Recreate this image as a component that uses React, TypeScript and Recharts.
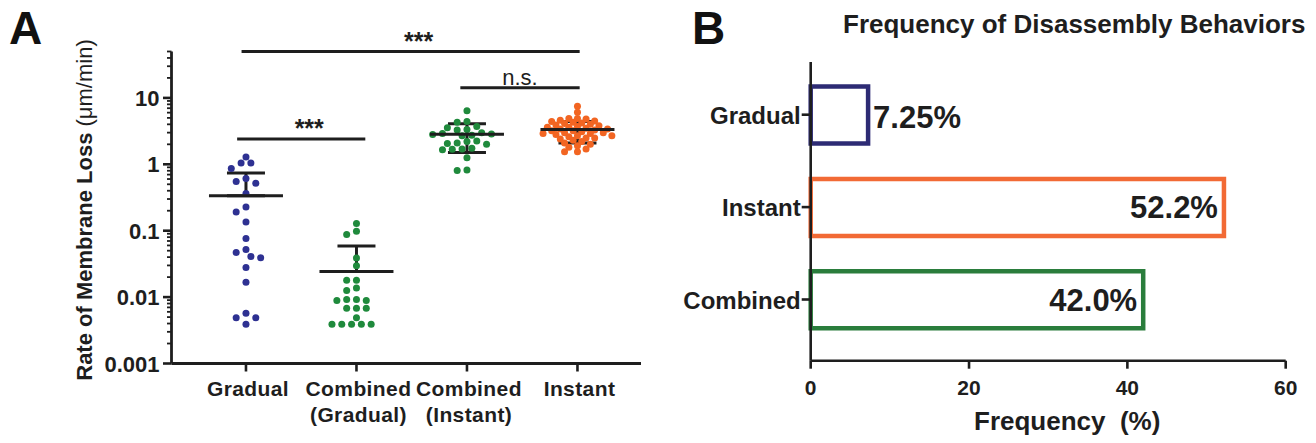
import React from 'react'
import {
  ScatterChart,
  Scatter,
  XAxis,
  YAxis,
  ErrorBar,
  ReferenceLine,
  BarChart,
  Bar,
  Cell,
  LabelList,
} from 'recharts'

// ---- Panel A: rate of membrane loss (um/min), log scale ----
const rateCategories = [1, 2, 3, 4]
const rateCategoryLabels = [['Gradual'], ['Combined', '(Gradual)'], ['Combined', '(Instant)'], ['Instant']]

const gradualRates = [
  1.29, 1.05, 1.05, 0.865, 0.61, 0.55, 0.52, 0.363, 0.228, 0.191, 0.135, 0.076, 0.052, 0.047, 0.041,
  0.039, 0.028, 0.0168, 0.0057, 0.0049, 0.0049, 0.0039,
]
const combinedGradualRates = [
  0.128, 0.098, 0.088, 0.0387, 0.0297, 0.0179, 0.0179, 0.0137, 0.0126, 0.0089, 0.0089, 0.0092, 0.0092,
  0.0068, 0.0068, 0.0068, 0.0049, 0.0039, 0.0039, 0.0039, 0.0039, 0.0039,
]
const combinedInstantRates = [
  6.4, 4.4, 4.3, 3.7, 3.55, 3.35, 3.3, 3.0, 2.9, 2.85, 2.8, 2.75, 2.7, 2.25, 2.2, 2.1, 2.05, 2.0, 1.75,
  1.7, 1.68, 1.65, 1.25, 0.82, 0.81,
]
const instantRates = [
  7.5, 6.1, 4.9, 4.9, 4.8, 4.6, 4.5, 4.4, 4.3, 4.2, 4.1, 4.0, 3.9, 3.8, 3.7, 3.6, 3.6, 3.5, 3.4, 3.4,
  3.3, 3.2, 3.2, 3.1, 3.0, 3.0, 2.9, 2.9, 2.8, 2.7, 2.7, 2.6, 2.5, 2.5, 2.4, 2.3, 2.2, 2.1, 2.0, 1.9,
  1.8, 1.7, 1.55, 1.55,
]

// mean +/- SD; the lower arm of the first two groups falls below zero, so it is not drawn
const rateMeans = [0.336, 0.0243, 2.84, 3.33]
const rateUpper = [0.739, 0.059, 4.09, 4.43]
const rateLower = [0.336, 0.0243, 1.5, 2.1]

const decadeTicks = [0.001, 0.01, 0.1, 1, 10]
const decadeLabels = ['0.001', '0.01', '0.1', '1', '10']
const minorMultipliers = [2, 3, 4, 5, 6, 7, 8, 9]

const comparisons = [
  { from: 0.96, to: 4.02, y: 50, label: '***' },
  { from: 0.92, to: 2.08, y: 2.41, label: '***' },
  { from: 2.94, to: 4.02, y: 14.2, label: 'n.s.' },
]

// ---- Panel B: frequency of disassembly behaviors ----
const behaviors = ['Gradual', 'Instant', 'Combined']
const frequencies = [7.25, 52.2, 42.0]
const frequencyLabels = ['7.25%', '52.2%', '42.0%']
const frequencyTicks = [0, 20, 40, 60]

const INK = '#1e1e1e'
const FONT = 'Liberation Sans, Arial, sans-serif'

// layout of panel A plot (pixels), used only to lay out the swarm and tick marks
const A_AXIS_X = 171.5
const PX_PER_CATEGORY = 110.5
const PX_PER_DECADE = 66.3
const SWARM_STEP = 4.9

// simple beeswarm: spread equal-ish values sideways so dots do not overlap
function swarm(values: number[], category: number, minDist: number, step = SWARM_STEP) {
  const placed: { dx: number; py: number }[] = []
  return [...values]
    .sort((a, b) => b - a)
    .map((v) => {
      const py = Math.log10(v) * PX_PER_DECADE
      let dx = 0
      for (let k = 0; k < 60; k++) {
        const s = k === 0 ? 0 : Math.ceil(k / 2) * (k % 2 ? -1 : 1)
        const cand = s * step
        if (placed.every((p) => Math.hypot(p.dx - cand, p.py - py) >= minDist)) {
          dx = cand
          break
        }
      }
      placed.push({ dx, py })
      return { x: category + dx / PX_PER_CATEGORY, y: v }
    })
}

const rateGroups = [
  { data: swarm(gradualRates, 1, 7.6), color: '#2e3192' },
  { data: swarm(combinedGradualRates, 2, 7.6), color: '#1f8a3c' },
  { data: swarm(combinedInstantRates, 3, 7.4), color: '#1f8a3c' },
  { data: swarm(instantRates, 4, 5.4, 4.3), color: '#f26522' },
]

const summaryData = rateCategories.map((c, i) => ({
  x: c,
  y: rateMeans[i],
  err: [rateMeans[i] - rateLower[i], rateUpper[i] - rateMeans[i]],
}))

const logTicks = decadeTicks
  .flatMap((d) => [d, ...minorMultipliers.map((m) => +(m * d).toPrecision(3))])
  .filter((v) => v <= 50)

const decadeIndex = (v: number) => decadeTicks.findIndex((d) => Math.abs(d - v) / d < 1e-6)

function LogTick(props: any) {
  const { y, payload } = props
  const idx = decadeIndex(payload.value)
  const major = idx >= 0
  return (
    <g>
      <line
        x1={A_AXIS_X - (major ? 8.5 : 4.5)}
        x2={A_AXIS_X}
        y1={y}
        y2={y}
        stroke={INK}
        strokeWidth={major ? 2.6 : 1.8}
      />
      {major && (
        <text x={A_AXIS_X - 12} y={y} dy={8} textAnchor="end" fontFamily={FONT} fontWeight="bold" fontSize={22} fill={INK}>
          {decadeLabels[idx]}
        </text>
      )}
    </g>
  )
}

function CategoryTick(props: any) {
  const { x, y, payload } = props
  const lines = rateCategoryLabels[payload.value - 1] || []
  return (
    <text x={x} y={y} textAnchor="middle" fontFamily={FONT} fontWeight="bold" fontSize={21} fill={INK} letterSpacing={0.4}>
      {lines.map((l, i) => (
        <tspan key={i} x={x + 2} dy={i === 0 ? 22 : 26}>
          {l}
        </tspan>
      ))}
    </text>
  )
}

function RateAxisLabel() {
  return (
    <text transform="translate(92, 210) rotate(-90)" textAnchor="middle" fontFamily={FONT} fontSize={22} fill={INK}>
      <tspan fontWeight="bold">Rate of Membrane Loss </tspan>
      <tspan>(μm/min)</tspan>
    </text>
  )
}

const dot = (color: string) => (p: any) => <circle cx={p.cx} cy={p.cy} r={3.5} fill={color} />
const meanLine = (p: any) => <line x1={p.cx - 37} x2={p.cx + 37} y1={p.cy} y2={p.cy} stroke={INK} strokeWidth={3} />

function RatePanel() {
  return (
    <ScatterChart width={660} height={443} margin={{ top: 51.5, right: 19, bottom: 21.5, left: 101.5 }}>
      <XAxis
        type="number"
        dataKey="x"
        domain={[0.326, 4.575]}
        ticks={rateCategories}
        interval={0}
        allowDataOverflow
        height={58}
        tickSize={8}
        axisLine={{ stroke: INK, strokeWidth: 2.8 }}
        tickLine={{ stroke: INK, strokeWidth: 2.6 }}
        tick={<CategoryTick />}
      />
      <YAxis
        type="number"
        dataKey="y"
        scale="log"
        domain={[0.001, 50]}
        allowDataOverflow
        ticks={logTicks}
        interval={0}
        width={70}
        tickLine={false}
        axisLine={{ stroke: INK, strokeWidth: 2.8 }}
        tick={<LogTick />}
      />
      {rateGroups.map((g, i) => (
        <Scatter key={i} data={g.data} shape={dot(g.color)} isAnimationActive={false} />
      ))}
      <Scatter data={summaryData} shape={meanLine} isAnimationActive={false}>
        <ErrorBar dataKey="err" direction="y" width={19} stroke={INK} strokeWidth={3} isAnimationActive={false} />
      </Scatter>
      {comparisons.map((c, i) => (
        <ReferenceLine
          key={i}
          segment={[
            { x: c.from, y: c.y },
            { x: c.to, y: c.y },
          ]}
          stroke={INK}
          strokeWidth={3}
          ifOverflow="visible"
          label={{
            value: c.label,
            position: 'top',
            offset: c.label === '***' ? 2 : 3,
            fill: INK,
            fontFamily: FONT,
            fontWeight: c.label === '***' ? 'bold' : 'normal',
            fontSize: c.label === '***' ? 25 : 22,
            dx: c.label === '***' ? 8 : 0,
          }}
        />
      ))}
    </ScatterChart>
  )
}

// ---- Panel B ----
const frequencyData = behaviors.map((b, i) => ({ behavior: b, frequency: frequencies[i], label: frequencyLabels[i] }))
const behaviorColors = ['#2d2b74', '#f26a35', '#2a7d3c']

function FrequencyTick(props: any) {
  const { x, y, payload } = props
  return (
    <text x={x} y={y} dy={24} textAnchor="middle" fontFamily={FONT} fontWeight="bold" fontSize={21} fill={INK}>
      {payload.value}
    </text>
  )
}

function BehaviorTick(props: any) {
  const { x, y, payload } = props
  return (
    <text x={x} y={y} dy={9} textAnchor="end" fontFamily={FONT} fontWeight="bold" fontSize={24} fill={INK}>
      {payload.value}
    </text>
  )
}

function BarValueLabel(props: any) {
  const { x, y, width, height, index } = props
  const d = frequencyData[index]
  const inside = d.frequency > 20
  return (
    <text
      x={inside ? x + width - 6 : x + width + 5}
      y={y + height / 2}
      dy={inside ? 11 : 13}
      textAnchor={inside ? 'end' : 'start'}
      fontFamily={FONT}
      fontWeight="bold"
      fontSize={31}
      fill={INK}
    >
      {d.label}
    </text>
  )
}

function FrequencyAxisLabel(props: any) {
  const { viewBox } = props
  return (
    <text
      x={viewBox.x + viewBox.width / 2 + 19}
      y={viewBox.y + 69}
      textAnchor="middle"
      fontFamily={FONT}
      fontWeight="bold"
      fontSize={26}
      fill={INK}
      style={{ whiteSpace: 'pre' }}
    >
      {'Frequency  (%)'}
    </text>
  )
}

function FrequencyPanel() {
  return (
    <BarChart
      layout="vertical"
      width={656}
      height={443}
      data={frequencyData}
      margin={{ top: 62, right: 30.3, bottom: 22.3, left: 50.7 }}
      barSize={57}
    >
      <XAxis
        type="number"
        domain={[0, 60]}
        ticks={frequencyTicks}
        interval={0}
        height={60}
        tickSize={8}
        axisLine={{ stroke: INK, strokeWidth: 2.6 }}
        tickLine={{ stroke: INK, strokeWidth: 2.6 }}
        tick={<FrequencyTick />}
        label={<FrequencyAxisLabel />}
      />
      <YAxis
        type="category"
        dataKey="behavior"
        width={100}
        tickSize={9}
        tickMargin={1}
        padding={{ top: 6.5, bottom: 15 }}
        axisLine={{ stroke: INK, strokeWidth: 2.6 }}
        tickLine={{ stroke: INK, strokeWidth: 2.6 }}
        tick={<BehaviorTick />}
      />
      <Bar dataKey="frequency" fill="#ffffff" strokeWidth={4.5} isAnimationActive={false}>
        {frequencyData.map((d, i) => (
          <Cell key={d.behavior} stroke={behaviorColors[i]} />
        ))}
        <LabelList dataKey="frequency" content={<BarValueLabel />} />
      </Bar>
    </BarChart>
  )
}

export default function App() {
  return (
    <div style={{ position: 'fixed', left: 0, top: 0, width: 1316, height: 443, background: '#ffffff', overflow: 'hidden' }}>
      <div style={{ position: 'absolute', left: 0, top: 0 }}>
        <RatePanel />
      </div>
      <div style={{ position: 'absolute', left: 660, top: 0 }}>
        <FrequencyPanel />
      </div>
      <svg width={1316} height={443} style={{ position: 'absolute', left: 0, top: 0, pointerEvents: 'none' }}>
        <text x={9} y={44} fontFamily={FONT} fontWeight="bold" fontSize={46} fill="#111">
          A
        </text>
        <text x={692} y={44} fontFamily={FONT} fontWeight="bold" fontSize={46} fill="#111">
          B
        </text>
        <text x={843} y={33} fontFamily={FONT} fontWeight="bold" fontSize={26} fill={INK}>
          Frequency of Disassembly Behaviors
        </text>
        <RateAxisLabel />
      </svg>
    </div>
  )
}
